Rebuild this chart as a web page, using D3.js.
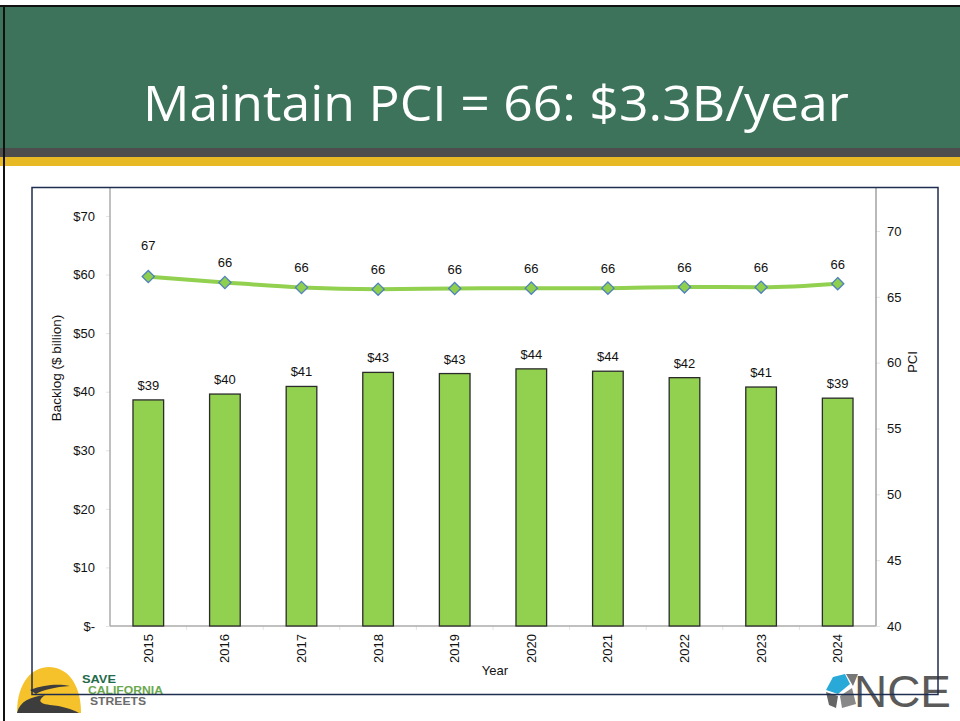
<!DOCTYPE html>
<html><head><meta charset="utf-8">
<script src="https://cdn.jsdelivr.net/npm/d3@7"></script>
<style>
html,body{margin:0;padding:0;background:#fff;}
svg{display:block;font-family:"Liberation Sans",Arial,sans-serif;}
</style></head>
<body>
<svg id="c" width="960" height="721"></svg>
<script>
const years = ["2015","2016","2017","2018","2019","2020","2021","2022","2023","2024"];
const backlog = [38.6, 39.6, 40.9, 43.3, 43.1, 43.9, 43.5, 42.4, 40.8, 38.9];
const backlogLabels = ["$39","$40","$41","$43","$43","$44","$44","$42","$41","$39"];
const pci = [66.54, 66.09, 65.71, 65.58, 65.63, 65.66, 65.66, 65.75, 65.73, 66.0];
const pciLabels = ["67","66","66","66","66","66","66","66","66","66"];
const leftTicks = [0,10,20,30,40,50,60,70];
const rightTicks = [40,45,50,55,60,65,70];
const title = "Maintain PCI = 66: $3.3B/year";

const svg = d3.select("#c");
const FS = "13px";

// slide background & header
svg.append("rect").attr("x",0).attr("y",0).attr("width",960).attr("height",721).attr("fill","#fff");
svg.append("rect").attr("x",0).attr("y",5).attr("width",960).attr("height",143).attr("fill","#3c735a");
svg.append("rect").attr("x",0).attr("y",5).attr("width",960).attr("height",2).attr("fill","#111");
svg.append("rect").attr("x",0).attr("y",148).attr("width",960).attr("height",9).attr("fill","#4d4d4d");
svg.append("rect").attr("x",0).attr("y",157).attr("width",960).attr("height",9).attr("fill","#e6b925");
svg.append("rect").attr("x",3).attr("y",5).attr("width",2).attr("height",716).attr("fill","#111");
svg.append("text").attr("x",496).attr("y",121).attr("text-anchor","middle")
  .attr("fill","#fff").style("font-family","'Open Sans',sans-serif").style("font-size","49px")
  .attr("textLength",706).attr("lengthAdjust","spacingAndGlyphs").text(title);

// logos
const lg = svg.append("g");
lg.append("path").attr("d","M17,713 C17,681 33,667 49,667 C65,667 81,681 81,713 Z").attr("fill","#f5c22b");
lg.append("path").attr("d","M17,713 C20,701 30,697 45,695 C40,699 36,703 50,705 C62,706 72,709 79,713 Z").attr("fill","#3d3d3d");
lg.append("path").attr("d","M30,690 C45,684 60,684 70,686 C55,687 42,690 36,694 Z").attr("fill","#3d3d3d");
lg.append("text").attr("x",82).attr("y",683).attr("fill","#1f6b4b").style("font-size","10.5px").style("font-weight","bold")
  .attr("textLength",34).attr("lengthAdjust","spacingAndGlyphs").text("SAVE");
lg.append("text").attr("x",88).attr("y",693.5).attr("fill","#6aa84f").style("font-size","10.5px").style("font-weight","bold")
  .attr("textLength",75).attr("lengthAdjust","spacingAndGlyphs").text("CALIFORNIA");
lg.append("text").attr("x",90).attr("y",704.5).attr("fill","#6b6b6b").style("font-size","10.5px").style("font-weight","bold")
  .attr("textLength",56).attr("lengthAdjust","spacingAndGlyphs").text("STREETS");

const ng = svg.append("g");
ng.append("path").attr("d","M833,677 L845,674 L850,684 L838,694 L826,690 Z").attr("fill","#29a9d8");
ng.append("path").attr("d","M846,674 L858,674 L853,686 Z").attr("fill","#777");
ng.append("path").attr("d","M826,692 L838,696 L836,708 L829,705 Z").attr("fill","#666");
ng.append("path").attr("d","M840,696 L852,688 L856,704 L842,708 Z").attr("fill","#888");
ng.append("text").attr("x",854).attr("y",707).attr("fill","#5a5a5a").style("font-size","45px")
  .style("font-family","'Liberation Sans',Arial,sans-serif").attr("textLength",97).attr("lengthAdjust","spacingAndGlyphs").text("NCE");

// chart area
const L = 110, R = 876, T = 188, B = 626;
const x = d3.scaleBand().domain(years).range([L,R]).paddingInner(0.6).paddingOuter(0.3);
const xc = d3.scaleBand().domain(years).range([L,R]);
const yL = d3.scaleLinear().domain([0,70]).range([B,216]);
const yR = d3.scaleLinear().domain([40,70]).range([B,231]);

const fmt = v => v === 0 ? "$-" : "$" + v;

// axes
const axL = d3.axisLeft(yL).tickValues(leftTicks).tickFormat(fmt).tickSize(4).tickPadding(11);
const gL = svg.append("g").attr("transform",`translate(${L},0)`).call(axL);
const axR = d3.axisRight(yR).tickValues(rightTicks).tickSize(4).tickPadding(7);
const gR = svg.append("g").attr("transform",`translate(${R},0)`).call(axR);
[gL,gR].forEach(g=>{
  g.select(".domain").remove();
  g.selectAll(".tick line").attr("stroke","#e4e4e4");
  g.selectAll(".tick text").attr("fill","#111").style("font-size",FS).style("font-family","'Liberation Sans',Arial,sans-serif");
});
svg.append("line").attr("x1",L).attr("x2",L).attr("y1",T).attr("y2",B).attr("stroke","#ababab").attr("stroke-width",1.5);
svg.append("line").attr("x1",R).attr("x2",R).attr("y1",T).attr("y2",B).attr("stroke","#8a8a8a").attr("stroke-width",1.2);

// x axis
const axB = d3.axisBottom(xc).tickSize(0).tickPadding(8);
const gB = svg.append("g").attr("transform",`translate(0,${B})`).call(axB);
gB.select(".domain").remove();
gB.selectAll(".tick text").attr("fill","#111").style("font-size",FS).style("font-family","'Liberation Sans',Arial,sans-serif")
  .attr("transform","rotate(-90)").attr("text-anchor","end").attr("x",-8).attr("y",0).attr("dy","0.35em");
svg.append("g").selectAll("line").data(years.slice(1)).join("line")
  .attr("x1",d=>xc(d)).attr("x2",d=>xc(d)).attr("y1",B).attr("y2",B+4).attr("stroke","#e4e4e4");
svg.append("line").attr("x1",L).attr("x2",R).attr("y1",B).attr("y2",B).attr("stroke","#ababab").attr("stroke-width",1.5);

// bars
svg.append("g").selectAll("rect").data(backlog).join("rect")
  .attr("x",(d,i)=>x(years[i])).attr("width",x.bandwidth())
  .attr("y",d=>yL(d)).attr("height",d=>B-yL(d))
  .attr("fill","#92d050").attr("stroke","#2b2b2b").attr("stroke-width",1.3);
svg.append("g").selectAll("text").data(backlog).join("text")
  .attr("x",(d,i)=>xc(years[i])+xc.bandwidth()/2).attr("y",d=>yL(d)-10)
  .attr("text-anchor","middle").style("font-size",FS).attr("fill","#111")
  .text((d,i)=>backlogLabels[i]);

// PCI line
const cx = i => xc(years[i]) + xc.bandwidth()/2;
svg.append("path").datum(pci)
  .attr("d", d3.line().x((d,i)=>cx(i)).y(d=>yR(d)).curve(d3.curveMonotoneX))
  .attr("fill","none").attr("stroke","#92d050").attr("stroke-width",4);
svg.append("g").selectAll("path").data(pci).join("path")
  .attr("d", d3.symbol(d3.symbolDiamond2, 95))
  .attr("transform",(d,i)=>`translate(${cx(i)},${yR(d)})`)
  .attr("fill","#8fcf4e").attr("stroke","#4f81bd").attr("stroke-width",1.3);
svg.append("g").selectAll("text").data(pci).join("text")
  .attr("x",(d,i)=>cx(i)).attr("y",(d,i)=>yR(d)-(i===0?27:15))
  .attr("text-anchor","middle").style("font-size",FS).attr("fill","#111")
  .text((d,i)=>pciLabels[i]);

// axis titles
svg.append("text").attr("transform","translate(61,368) rotate(-90)").attr("text-anchor","middle")
  .style("font-size","13.5px").attr("fill","#111").text("Backlog ($ billion)");
svg.append("text").attr("transform","translate(917,362) rotate(-90)").attr("text-anchor","middle")
  .style("font-size",FS).attr("fill","#111").text("PCI");
svg.append("text").attr("x",495).attr("y",675).attr("text-anchor","middle")
  .style("font-size",FS).attr("fill","#111").text("Year");

// chart border
svg.append("rect").attr("x",32).attr("y",187.5).attr("width",906).attr("height",507)
  .attr("fill","none").attr("stroke","#1f2d50").attr("stroke-width",1.5);
</script>
</body></html>
